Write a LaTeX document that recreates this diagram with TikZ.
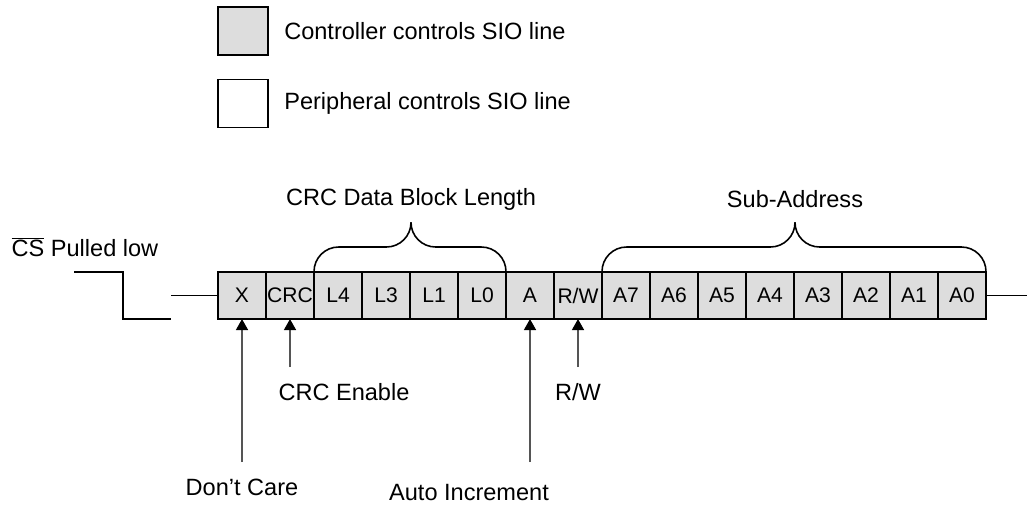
\documentclass[tikz,border=0pt]{standalone}
\usepackage{fontspec}
\setmainfont{Liberation Sans}
\usetikzlibrary{positioning,arrows.meta}
\definecolor{boxgray}{RGB}{221,221,221}
\definecolor{ptrgray}{RGB}{85,85,85}
\tikzset{
    bit/.style={draw,fill=boxgray,line width=1.1pt,minimum width=0.96cm,minimum height=0.94cm,inner sep=0pt,outer sep=0pt,font=\fontsize{12}{14}\selectfont},
    legbox/.style={draw,line width=1.1pt,minimum width=1cm,minimum height=0.96cm,inner sep=0pt},
    lab/.style={inner sep=0pt,font=\fontsize{13.4}{16}\selectfont},
    brace/.style={line width=0.9pt,rounded corners=14pt},
    sig/.style={line width=0.9pt},
    ptr/.style={draw=ptrgray,line width=1pt,-{Triangle[width=6.8pt,length=6.3pt,black]}}
}
\begin{document}
\begin{tikzpicture}[x=0.02cm,y=-0.02cm]
    \useasboundingbox (0,0) rectangle (1027,504);
    % legend
    \node[legbox,fill=boxgray] (ctlbox) at (243,31) {};
    \node[legbox] (perbox) at (243,103.5) {};
    \node[lab,right=0.3cm of ctlbox] {Controller controls SIO line};
    \node[lab,right=0.3cm of perbox] {Peripheral controls SIO line};
    % bit frame
    \foreach \lab [count=\i from 0] in {X,CRC,L4,L3,L1,L0,A,R/W,A7,A6,A5,A4,A3,A2,A1,A0}
        \node[bit] (b\i) at ({242+48*\i},295.5) {\lab};
    % chip select and SIO line
    \node[lab] (cslab) at (85,247) {$\overline{\mbox{CS}}$ Pulled low};
    \coordinate (cshigh) at (74,272);
    \coordinate (cslow) at (171,319);
    \draw[sig] (cshigh) -| (123,319) -- (cslow);
    \coordinate (sioin) at (171,295.5);
    \coordinate (sioout) at (1027,295.5);
    \draw[sig] (sioin) -- (b0.west);
    \draw[sig] (b15.east) -- (sioout);
    % braces
    \coordinate (crctip) at (411,223);
    \coordinate (subtip) at (795,223);
    \draw[brace] (b2.north west) -- ++(0,-25) -| (crctip);
    \draw[brace] (b5.north east) -- ++(0,-25) -| (crctip);
    \draw[brace] (b8.north west) -- ++(0,-25) -| (subtip);
    \draw[brace] (b15.north east) -- ++(0,-25) -| (subtip);
    \node[lab] (crclen) at (411,199) {CRC Data Block Length};
    \node[lab] (subaddr) at (795,199) {Sub-Address};
    % pointers
    \node[lab] (dontcare) at (242,487) {Don’t Care};
    \node[lab] (crcen) at (344,392) {CRC Enable};
    \node[lab] (autoinc) at (469,493) {Auto Increment};
    \node[lab] (rwlab) at (578,392) {R/W};
    \coordinate (xfoot) at (242,462);
    \coordinate (crcfoot) at (290,367);
    \coordinate (afoot) at (530,462);
    \coordinate (rwfoot) at (578,367);
    \draw[ptr] (xfoot) -- (b0.south);
    \draw[ptr] (crcfoot) -- (b1.south);
    \draw[ptr] (afoot) -- (b6.south);
    \draw[ptr] (rwfoot) -- (b7.south);
\end{tikzpicture}
\end{document}
